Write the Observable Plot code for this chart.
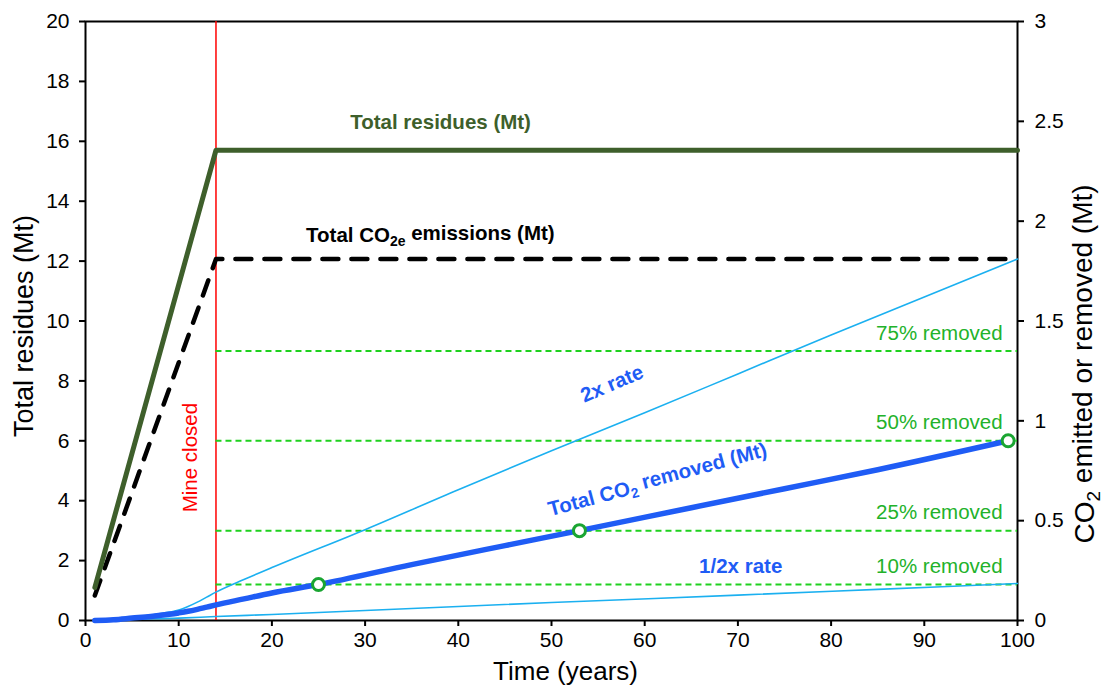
<!DOCTYPE html>
<html>
<head>
<meta charset="utf-8">
<script src="https://cdn.jsdelivr.net/npm/d3@7"></script>
<script src="https://cdn.jsdelivr.net/npm/@observablehq/plot@0.6"></script>
<style>
  html, body { margin: 0; padding: 0; background: #fff; }
  #chart svg { display: block; }
</style>
</head>
<body>
<div id="chart"></div>
<script>
// ---- Data ----
// Left axis: Total residues (Mt), 0–20. Right axis: CO2 emitted or removed (Mt), 0–3.
const residueYears = [1, 14, 100];
const residues = [1.1, 15.7, 15.7];

const emissionYears = [1, 14, 100];
const emissions = [0.125, 1.81, 1.81]; // right-axis units

const removedYears = [1, 3, 5, 7, 9, 10, 11, 12, 13, 14, 17, 20, 25, 35, 45, 53, 65, 75, 85, 99];
const removed =      [0, 0.004, 0.012, 0.02, 0.031, 0.038, 0.046, 0.056, 0.067, 0.078, 0.108, 0.138, 0.18, 0.28, 0.375, 0.45, 0.565, 0.66, 0.755, 0.9];

const twoXYears = [1, 3, 5, 7, 9, 10, 11, 12, 13, 14, 17, 20, 30, 40, 50, 60, 70, 80, 90, 100];
const twoX =      [0, 0.006, 0.015, 0.027, 0.042, 0.052, 0.07, 0.092, 0.117, 0.142, 0.205, 0.265, 0.455, 0.655, 0.85, 1.04, 1.235, 1.43, 1.62, 1.81];

const halfXYears = [1, 5, 10, 14, 20, 35, 50, 70, 85, 100];
const halfX =      [0, 0.006, 0.012, 0.02, 0.03, 0.06, 0.09, 0.127, 0.156, 0.185];

const milestoneYears = [25, 53, 99];
const milestoneValues = [0.18, 0.45, 0.9];

const pctValues = [1.35, 0.9, 0.45, 0.18];
const pctLabels = ["75% removed", "50% removed", "25% removed", "10% removed"];

const mineClosedYear = 14;

const xTicks = [0, 10, 20, 30, 40, 50, 60, 70, 80, 90, 100];
const leftTicks = [0, 2, 4, 6, 8, 10, 12, 14, 16, 18, 20];
const rightTicks = [0, 0.5, 1, 1.5, 2, 2.5, 3];

// ---- Build ----
const k = 20 / 3; // right-axis value -> left-axis scale
const zip = (xs, ys, f = 1) => xs.map((x, i) => ({x, y: ys[i] * f}));

const residueData = zip(residueYears, residues);
const emissionData = zip(emissionYears, emissions, k);
const removedData = zip(removedYears, removed, k);
const twoXData = zip(twoXYears, twoX, k);
const halfXData = zip(halfXYears, halfX, k);
const milestoneData = zip(milestoneYears, milestoneValues, k);
const pctData = pctValues.map((v, i) => ({y: v * k, label: pctLabels[i]}));

const darkGreen = "#3e5f2b";
const blue = "#1f5cf5";
const lightBlue = "#1bb0f0";
const pctGreen = "#1fd11f";
const pctText = "#22b22a";
const font = "'Liberation Sans', Arial, sans-serif";
const labelSize = 20.5;
const tickSize = 21;

const chart = Plot.plot({
  width: 1104,
  height: 693,
  marginLeft: 85,
  marginRight: 87,
  marginTop: 21,
  marginBottom: 73,
  style: {fontFamily: font, fontSize: tickSize + "px", color: "#000", background: "#fff"},
  x: {domain: [0, 100]},
  y: {domain: [0, 20]},
  marks: [
    Plot.frame({stroke: "#000", strokeWidth: 2}),
    Plot.axisX(xTicks, {anchor: "bottom", tickSize: 6, tickPadding: 6, strokeWidth: 2, fontSize: tickSize, label: null}),
    Plot.axisY(leftTicks, {anchor: "left", tickSize: 6, tickPadding: 10, strokeWidth: 2, fontSize: tickSize, label: null}),
    Plot.axisY(rightTicks.map(r => r * k), {anchor: "right", tickSize: 6, tickPadding: 11, strokeWidth: 2, fontSize: tickSize, label: null,
      tickFormat: d => String(+(d / k).toFixed(1))}),
    // Mine closed
    Plot.ruleX([mineClosedYear], {y1: 0, y2: 20, stroke: "#ff0000", strokeWidth: 1.5}),
    // percentage guide lines
    Plot.ruleY(pctData, {y: "y", x1: mineClosedYear, x2: 100, stroke: pctGreen, strokeWidth: 2, strokeDasharray: "6,4"}),
    // lines
    Plot.line(halfXData, {x: "x", y: "y", stroke: lightBlue, strokeWidth: 1.6, curve: "monotone-x"}),
    Plot.line(twoXData, {x: "x", y: "y", stroke: lightBlue, strokeWidth: 1.6, curve: "monotone-x"}),
    Plot.line(removedData, {x: "x", y: "y", stroke: blue, strokeWidth: 5.5, curve: "monotone-x"}),
    Plot.line(emissionData, {x: "x", y: "y", stroke: "#000", strokeWidth: 4.5, strokeDasharray: "16,13"}),
    Plot.line(residueData, {x: "x", y: "y", stroke: darkGreen, strokeWidth: 5}),
    Plot.dot(milestoneData, {x: "x", y: "y", r: 6, fill: "#fff", stroke: "#1aa532", strokeWidth: 3}),
    // labels
    Plot.text(pctData, {x: 98.4, y: d => d.y, dy: -18, text: "label", textAnchor: "end", fill: pctText, fontSize: labelSize}),
    Plot.text(["Total residues (Mt)"], {x: 38.1, y: 16.63, text: d => d, fill: darkGreen, fontWeight: "bold", fontSize: labelSize}),
    Plot.text(["Total CO2e emissions (Mt)"], {x: 37.0, y: 12.85, text: d => d, fill: "#000", fontWeight: "bold", fontSize: labelSize}),
    Plot.text(["2x rate"], {x: 56.5, y: 7.9, text: d => d, fill: blue, fontWeight: "bold", fontSize: labelSize, rotate: -23}),
    Plot.text(["Total CO2 removed (Mt)"], {x: 61.4, y: 4.67, text: d => d, fill: blue, fontWeight: "bold", fontSize: labelSize, rotate: -15}),
    Plot.text(["1/2x rate"], {x: 70.3, y: 1.8, text: d => d, fill: blue, fontWeight: "bold", fontSize: labelSize}),
    Plot.text(["Mine closed"], {x: 11.3, y: 5.44, text: d => d, fill: "#ff0000", fontSize: labelSize, rotate: -90}),
    // axis titles
    Plot.text(["Total residues (Mt)"], {frameAnchor: "left", textAnchor: "middle", dx: -61, dy: 5, text: d => d, rotate: -90, fontSize: 27, fill: "#000"}),
    Plot.text(["CO2 emitted or removed (Mt)"], {frameAnchor: "right", textAnchor: "middle", dx: 68, dy: 43, text: d => d, rotate: -90, fontSize: 28, fill: "#000"}),
    Plot.text(["Time (years)"], {frameAnchor: "bottom", textAnchor: "middle", dx: 14, dy: 59, text: d => d, fontSize: 26, fill: "#000"})
  ]
});

// subscripts for CO2 / CO2e
d3.select(chart).selectAll("text").each(function () {
  const t = this.textContent;
  const m = t.match(/^(.*?CO)(2e|2)(.*)$/);
  if (!m) return;
  const el = d3.select(this);
  el.text(null);
  el.append("tspan").text(m[1]);
  el.append("tspan").attr("font-size", "0.68em").attr("dy", "0.3em").text(m[2]);
  el.append("tspan").attr("dy", "-0.3em").text(m[3]);
});

document.getElementById("chart").appendChild(chart);
</script>
</body>
</html>
